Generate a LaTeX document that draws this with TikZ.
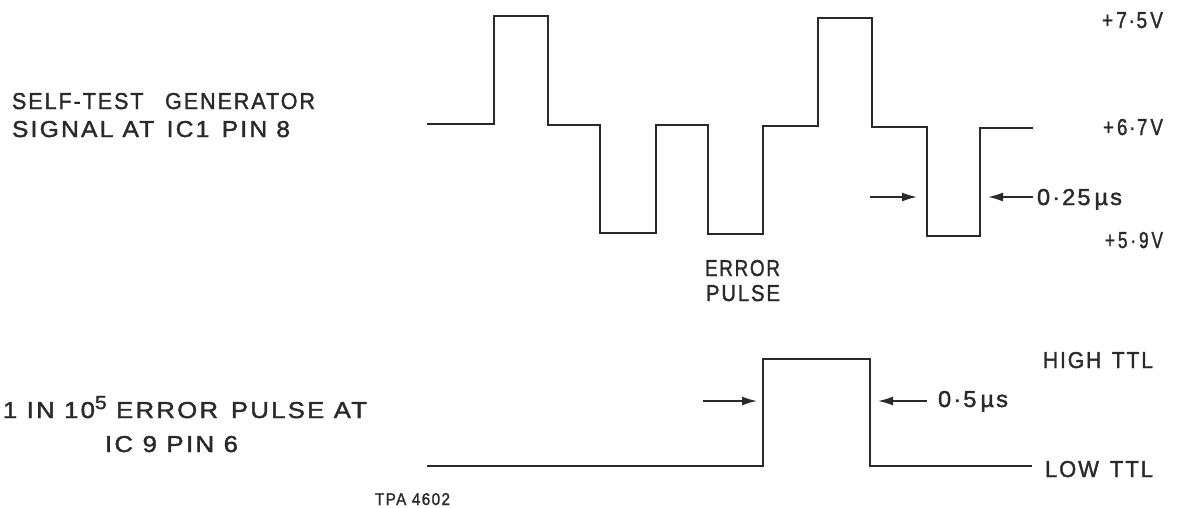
\documentclass[tikz,border=0pt]{standalone}
\usepackage{fontspec}
\usepackage{graphicx}
\setmainfont{Liberation Sans}
\newfontfamily\lblfont[LetterSpace=9,FakeBold=1.6]{Liberation Sans}
\usetikzlibrary{arrows.meta}
\definecolor{ink}{HTML}{2A2A2A}
\newcommand{\fw}[2]{\resizebox{#1}{\height}{#2}}
\tikzset{
  wave/.style={draw=ink, line width=2.7pt, line join=miter},
  dim/.style={draw=ink, line width=1.6pt, -{Latex[length=15pt,width=9pt]}},
  lbl/.style={inner sep=0pt, outer sep=0pt, anchor=base west, text=ink,
    font=\lblfont\fontsize{23}{23}\selectfont},
  small/.style={inner sep=0pt, outer sep=0pt, anchor=base west, text=ink,
    font=\lblfont\fontsize{17}{17}\selectfont}
}
\begin{document}
\begin{tikzpicture}[x=1pt,y=-1pt]
\useasboundingbox (0,0) rectangle (1181,507);
% top waveform
\draw[wave] (427,124) -- (494,124) -- (494,16) -- (548,16) -- (548,125) -- (600,125)
  -- (600,233) -- (656,233) -- (656,125) -- (708,125) -- (708,234) -- (763,234)
  -- (763,126) -- (818,126) -- (818,18) -- (872,18) -- (872,127) -- (927,127)
  -- (927,236) -- (980,236) -- (980,128) -- (1033,128);
% bottom waveform
\draw[wave] (427,466) -- (763,466) -- (763,359) -- (870,359) -- (870,466) -- (1032,466);
% dimension arrows
\coordinate (a1s) at (870,197); \coordinate (a1e) at (917,197);
\coordinate (a2s) at (1033,197); \coordinate (a2e) at (988,197);
\coordinate (b1s) at (703,401); \coordinate (b1e) at (757,401);
\coordinate (b2s) at (927,401); \coordinate (b2e) at (878,401);
\draw[dim] (a1s) -- (a1e);
\draw[dim] (a2s) -- (a2e);
\draw[dim] (b1s) -- (b1e);
\draw[dim] (b2s) -- (b2e);
% left labels
\node[lbl] (t1) at (12,109) {\fw{303pt}{SELF-TEST\quad GENERATOR}};
\node[lbl] (t2) at (12,137) {\fw{278pt}{SIGNAL AT\enspace IC1\enspace PIN 8}};
\node[lbl] (t3) at (3,418) {\fw{364pt}{1 IN 10\raisebox{9pt}{\fontsize{19}{19}\selectfont 5} ERROR\enspace PULSE AT}};
\node[lbl] (t4) at (105,452) {\fw{133pt}{IC 9 PIN 6}};
% right labels
\node[lbl] (v1) at (1102,28) {\fw{61pt}{+\,7·5\,V}};
\node[lbl] (v2) at (1103,135) {\fw{60pt}{+\,6·7\,V}};
\node[lbl] (v3) at (1105,248) {\fw{58pt}{+\,5\,·\,9\,V}};
\node[lbl] (w1) at (1037,205) {\fw{85pt}{0·25\,µs}};
\node[lbl] (e1) at (705,276) {\fw{75pt}{ERROR}};
\node[lbl] (e2) at (706,301) {\fw{74pt}{PULSE}};
\node[lbl] (h1) at (1043,368) {\fw{110pt}{HIGH\enspace TTL}};
\node[lbl] (l1) at (1045,477) {\fw{108pt}{LOW\enspace TTL}};
\node[lbl] (w2) at (938,407) {\fw{70pt}{0·5\,µs}};
\node[small] (tpa) at (375,505) {\fw{75pt}{TPA 4602}};
\end{tikzpicture}
\end{document}
